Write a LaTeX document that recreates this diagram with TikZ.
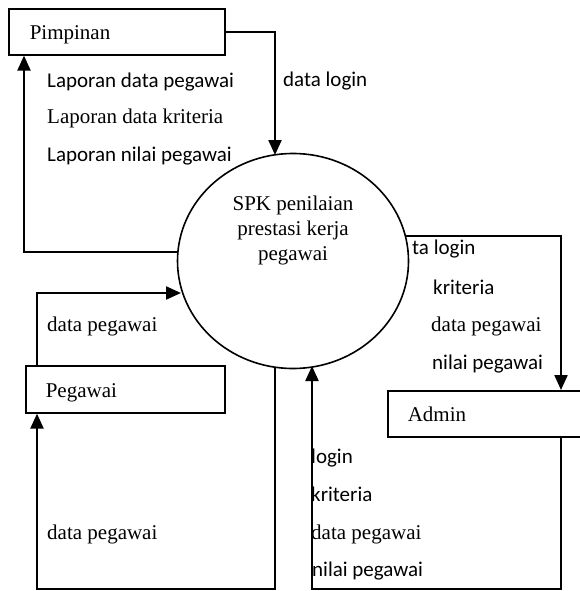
\documentclass[tikz,border=0pt]{standalone}
\usepackage{fontspec}
\setmainfont{Liberation Serif}
\newfontfamily\labelsans{Carlito}
\usetikzlibrary{arrows.meta,shapes.geometric}
\begin{document}
\begin{tikzpicture}[x=1pt,y=-1pt,
  serifl/.style={font=\fontsize{21}{24.7}\selectfont, inner sep=0pt, anchor=base west},
  sansl/.style={font=\fontsize{21}{24.7}\selectfont\labelsans, inner sep=0pt, anchor=base west},
  entity/.style={draw, line width=1.6pt, anchor=north west, minimum height=46pt,
    inner xsep=20pt, text height=19pt, text depth=3pt, align=left,
    font=\fontsize{21}{24.7}\selectfont},
  process/.style={draw, ellipse, line width=1.6pt, fill=white,
    minimum width=231pt, minimum height=215pt, inner sep=0pt},
  flow/.style={line width=2.2pt, -{Triangle[length=15pt,width=13pt]}}]

\clip (0,0) rectangle (580,591);

% external entities
\node[entity, inner xsep=21pt, text width=174pt] (pim) at (8,8) {Pimpinan};
\node[entity, text width=159pt, minimum height=47pt] (peg) at (25,365) {Pegawai};
\node[entity, text width=173pt] (adm) at (387,390) {Admin};

% the process
\node[process] (proc) at (293,261) {};
\node[font=\fontsize{21}{24.7}\selectfont, align=center, inner sep=0pt] (proctext)
  at (293,230.5) {SPK penilaian\\prestasi kerja\\pegawai};

% attachment points on the process and the routing rails
\coordinate (topIn) at (275,155);
\coordinate (leftOut) at (178,252);
\coordinate (leftIn) at (181,293);
\coordinate (botOut) at (275,367);
\coordinate (botIn) at (312,366);
\coordinate (rightOut) at (405,236);
\coordinate (pimX) at (24,0);
\coordinate (pegX) at (37,0);
\coordinate (admX) at (561,0);
\coordinate (floorY) at (0,589);

% data flows
\draw[flow] (pim.east) -| (topIn);
\draw[flow] (leftOut) -| (pim.south -| pimX);
\draw[flow] (peg.north -| pegX) |- (leftIn);
\draw[flow] (botOut) -- (botOut |- floorY) -| (peg.south -| pegX);
\draw[flow] (rightOut) -| (adm.north -| admX);
\draw[flow] (adm.south -| admX) -- (admX |- floorY) -| (botIn);

% flow labels
\node[sansl] (l1) at (47,87.3) {Laporan data pegawai};
\node[serifl] (l2) at (47,123.3) {Laporan data kriteria};
\node[sansl] (l3) at (47,161.7) {Laporan nilai pegawai};
\node[sansl] (l4) at (283,87) {data login};

\node[sansl] (r1) at (412,254.3) {ta login};
\node[sansl] (r2) at (433,294) {kriteria};
\node[serifl] (r3) at (431,331.7) {data pegawai};
\node[sansl] (r4) at (432,369.3) {nilai pegawai};

\node[serifl] (p1) at (47,331.7) {data pegawai};
\node[serifl] (p2) at (47,539.3) {data pegawai};

\node[sansl] (b1) at (311,463.3) {login};
\node[sansl] (b2) at (311,501.7) {kriteria};
\node[serifl] (b3) at (311,539.3) {data pegawai};
\node[sansl] (b4) at (312,576.7) {nilai pegawai};
\end{tikzpicture}
\end{document}
